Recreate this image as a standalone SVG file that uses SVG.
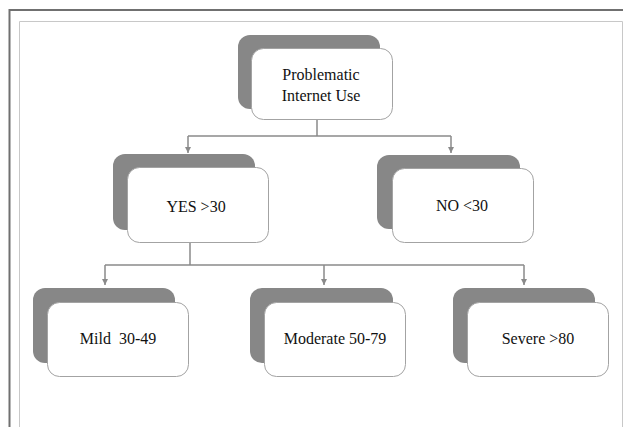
<svg xmlns="http://www.w3.org/2000/svg" width="623" height="427" viewBox="0 0 623 427">
<defs>
<marker id="arr" markerWidth="8" markerHeight="8" refX="6" refY="4" orient="auto" markerUnits="userSpaceOnUse">
<path d="M0,1 L6,4 L0,7 Z" fill="#8a8a8a"/>
</marker>
<style>
.sh{fill:#878787;}
.fr{fill:#ffffff;stroke:#a3a3a3;stroke-width:1;}
.tx{font-family:'Liberation Serif','DejaVu Serif',serif;font-size:16px;fill:#111;text-anchor:middle;}
.cn{fill:none;stroke:#8a8a8a;stroke-width:1.5;}
</style>
</defs>
<rect x="0" y="0" width="623" height="427" fill="#ffffff"/>
<path d="M9.5,427 V10 H623" fill="none" stroke="#707070" stroke-width="2"/>
<path d="M19.5,427 V21.5 H622.5 V427" fill="none" stroke="#c8c8c8" stroke-width="1"/>

<g id="connectors">
<path class="cn" d="M317,119 V136"/>
<path class="cn" d="M188,136 H451"/>
<path class="cn" d="M188,136 V153" marker-end="url(#arr)"/>
<path class="cn" d="M451,136 V153" marker-end="url(#arr)"/>
<path class="cn" d="M190,243 V265"/>
<path class="cn" d="M105,265 H524"/>
<path class="cn" d="M105,265 V285" marker-end="url(#arr)"/>
<path class="cn" d="M324,265 V285" marker-end="url(#arr)"/>
<path class="cn" d="M524,265 V285" marker-end="url(#arr)"/>
</g>

<g id="root">
<rect class="sh" x="238" y="35" width="142" height="74" rx="12"/>
<rect class="fr" x="251.5" y="48.5" width="141" height="71" rx="12"/>
<text class="tx" x="321" y="80">Problematic</text>
<text class="tx" x="321" y="101">Internet Use</text>
</g>

<g id="yes">
<rect class="sh" x="113" y="154" width="142" height="76" rx="12"/>
<rect class="fr" x="127.5" y="167.5" width="141" height="75" rx="12"/>
<text class="tx" x="196" y="212">YES &gt;30</text>
</g>

<g id="no">
<rect class="sh" x="377" y="155" width="143" height="74" rx="12"/>
<rect class="fr" x="392.5" y="168.5" width="141" height="74" rx="12"/>
<text class="tx" x="462" y="211">NO &lt;30</text>
</g>

<g id="mild">
<rect class="sh" x="33" y="288" width="142" height="75" rx="12"/>
<rect class="fr" x="47.5" y="302.5" width="141" height="74" rx="12"/>
<text class="tx" x="118" y="344" xml:space="preserve">Mild  30-49</text>
</g>

<g id="moderate">
<rect class="sh" x="250" y="288" width="143" height="75" rx="12"/>
<rect class="fr" x="264.5" y="302.5" width="141" height="74" rx="12"/>
<text class="tx" x="335" y="344">Moderate 50-79</text>
</g>

<g id="severe">
<rect class="sh" x="453" y="288" width="142" height="75" rx="12"/>
<rect class="fr" x="467.5" y="302.5" width="141" height="74" rx="12"/>
<text class="tx" x="538" y="344">Severe &gt;80</text>
</g>
</svg>
